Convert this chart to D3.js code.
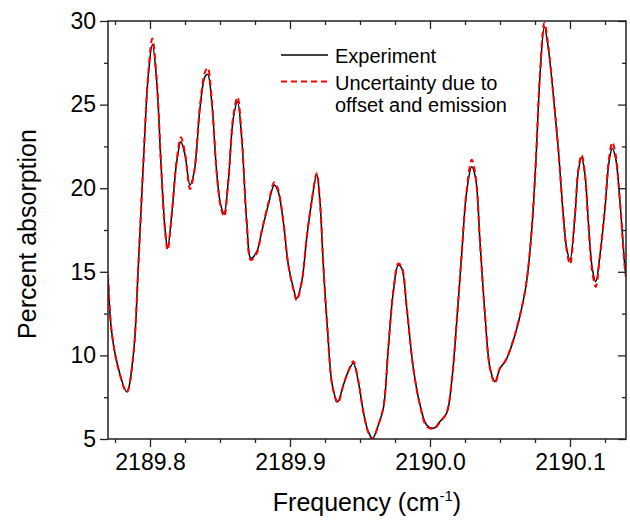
<!DOCTYPE html>
<html>
<head>
<meta charset="utf-8">
<script src="https://cdn.jsdelivr.net/npm/d3@7"></script>
<style>
  html, body { margin: 0; padding: 0; background: #fff; }
  svg { display: block; font-family: "Liberation Sans", Arial, sans-serif; }
</style>
</head>
<body>
<div id="chart"></div>
<script>
// ---- Data ----
const freq = [
  2189.7700, 2189.7726, 2189.7774, 2189.7834, 2189.7881, 2189.7917, 2189.7952, 2189.7988,
  2189.8017, 2189.8048, 2189.8079, 2189.8107, 2189.8126, 2189.8155, 2189.8191, 2189.8221,
  2189.8250, 2189.8286, 2189.8316, 2189.8357, 2189.8393, 2189.8412, 2189.8441, 2189.8476,
  2189.8505, 2189.8529, 2189.8559, 2189.8595, 2189.8625, 2189.8655, 2189.8691, 2189.8721,
  2189.8762, 2189.8798, 2189.8845, 2189.8888, 2189.8916, 2189.8952, 2189.8988, 2189.9024,
  2189.9048, 2189.9084, 2189.9119, 2189.9155, 2189.9191, 2189.9214, 2189.9238, 2189.9269,
  2189.9302, 2189.9341, 2189.9381, 2189.9416, 2189.9452, 2189.9488, 2189.9524, 2189.9559,
  2189.9590, 2189.9631, 2189.9667, 2189.9702, 2189.9738, 2189.9774, 2189.9798, 2189.9834,
  2189.9881, 2189.9929, 2189.9976, 2190.0024, 2190.0071, 2190.0119, 2190.0155, 2190.0191,
  2190.0226, 2190.0262, 2190.0298, 2190.0326, 2190.0357, 2190.0393, 2190.0429, 2190.0464,
  2190.0500, 2190.0536, 2190.0559, 2190.0607, 2190.0655, 2190.0690, 2190.0726, 2190.0755,
  2190.0786, 2190.0817, 2190.0845, 2190.0881, 2190.0916, 2190.0952, 2190.0976, 2190.1000,
  2190.1036, 2190.1059, 2190.1083, 2190.1107, 2190.1131, 2190.1159, 2190.1184, 2190.1214,
  2190.1250, 2190.1279, 2190.1302, 2190.1326, 2190.1357, 2190.1393, 2190.1400
];
const experiment = [
  14.8, 11.42, 9.23, 7.83, 10.02, 15.41, 21.39, 26.77,
  28.6, 26.37, 21.39, 17.6, 16.44, 18.4, 21.59, 22.78,
  21.99, 20.19, 20.99, 24.78, 26.67, 26.81, 25.17, 20.99,
  19.0, 18.5, 20.39, 24.18, 25.17, 23.0, 18.0, 15.81,
  16.2, 17.4, 19.0, 20.19, 19.79, 18.0, 15.41, 14.01,
  13.41, 14.41, 17.0, 19.19, 20.83, 19.19, 15.41, 11.42,
  8.23, 7.23, 8.23, 9.03, 9.53, 8.43, 6.63, 5.44,
  5.04, 5.84, 6.84, 10.42, 13.81, 15.41, 15.21, 12.82,
  9.23, 7.03, 5.84, 5.64, 6.04, 6.54, 8.43, 12.02,
  16.0, 19.79, 21.29, 20.59, 16.8, 12.42, 9.23, 8.43,
  9.23, 9.62, 10.02, 11.22, 12.82, 14.41, 17.4, 21.39,
  26.77, 29.66, 28.37, 25.57, 22.39, 18.4, 16.41, 15.71,
  18.4, 20.99, 21.82, 20.79, 18.0, 15.21, 14.41, 16.0,
  18.8, 21.59, 22.39, 21.79, 19.19, 15.21, 14.8
];
const uncertainty = [
  14.8, 11.45, 9.2, 7.8, 10.05, 15.45, 21.45, 26.9,
  28.95, 26.5, 21.4, 17.5, 16.3, 18.4, 21.7, 23.05,
  22.1, 19.95, 21.0, 24.9, 26.95, 27.2, 25.3, 20.95,
  18.9, 18.3, 20.4, 24.3, 25.45, 23.1, 17.9, 15.7,
  16.1, 17.45, 19.1, 20.35, 19.9, 18.05, 15.4, 13.95,
  13.3, 14.4, 17.05, 19.25, 20.9, 19.2, 15.4, 11.4,
  8.2, 7.15, 8.2, 9.05, 9.65, 8.45, 6.6, 5.4,
  4.98, 5.85, 6.9, 10.45, 13.85, 15.5, 15.3, 12.85,
  9.2, 7.0, 5.75, 5.6, 6.0, 6.6, 8.45, 12.05,
  16.05, 19.9, 21.7, 20.7, 16.8, 12.4, 9.2, 8.35,
  9.25, 9.65, 10.05, 11.25, 12.85, 14.45, 17.5, 21.5,
  26.9, 29.9, 28.5, 25.6, 22.4, 18.35, 16.3, 15.45,
  18.45, 21.1, 22.0, 20.85, 17.9, 15.0, 14.1, 15.95,
  18.9, 21.8, 22.75, 22.0, 19.2, 15.1, 14.7
];
const xMajorTicks = [2189.8, 2189.9, 2190.0, 2190.1];
const xMinorTicks = [2189.775, 2189.825, 2189.85, 2189.875, 2189.925, 2189.95, 2189.975,
                     2190.025, 2190.05, 2190.075, 2190.125];
const yMajorTicks = [5, 10, 15, 20, 25, 30];
const yMinorTicks = [7.5, 12.5, 17.5, 22.5, 27.5];
const seriesNames = ["Experiment", "Uncertainty due to", "offset and emission"];

// ---- Layout ----
const W = 630, H = 523;
const m = { left: 108, top: 21, right: 4, bottom: 84 };
const iw = W - m.left - m.right, ih = H - m.top - m.bottom;

const svg = d3.select("#chart").append("svg").attr("width", W).attr("height", H);
const g = svg.append("g").attr("transform", `translate(${m.left},${m.top})`);

const x = d3.scaleLinear().domain([2189.77, 2190.14]).range([0, iw]);
const y = d3.scaleLinear().domain([5, 30]).range([ih, 0]);

svg.append("defs").append("clipPath").attr("id", "clip")
  .append("rect").attr("x", 0).attr("y", 0).attr("width", iw).attr("height", ih);

const lineGen = d3.line()
  .x(d => x(d[0])).y(d => y(d[1]))
  .curve(d3.curveCatmullRom.alpha(0.5));

const expData = freq.map((f, i) => [f, experiment[i]]);
const uncData = freq.map((f, i) => [f, uncertainty[i]]);

const plot = g.append("g").attr("clip-path", "url(#clip)");
plot.append("path").datum(expData).attr("d", lineGen)
  .attr("fill", "none").attr("stroke", "#000").attr("stroke-width", 1.5);
plot.append("path").datum(uncData).attr("d", lineGen)
  .attr("fill", "none").attr("stroke", "#ff0000").attr("stroke-width", 2)
  .attr("stroke-dasharray", "6,4");

// ---- Axes ----
const axColor = "#222";
function styleAxis(sel, showText) {
  sel.select(".domain").remove();
  sel.selectAll("line").attr("stroke", axColor).attr("stroke-width", 1.3);
  sel.selectAll("text").attr("fill", "#000")
    .style("font-size", "23px").style("font-family", '"Liberation Sans", Arial, sans-serif');
  if (!showText) sel.selectAll("text").remove();
}
// bottom
g.append("g").attr("transform", `translate(0,${ih})`)
  .call(d3.axisBottom(x).tickValues(xMajorTicks).tickSize(8).tickPadding(7).tickFormat(d3.format(".1f")))
  .call(s => styleAxis(s, true));
g.append("g").attr("transform", `translate(0,${ih})`)
  .call(d3.axisBottom(x).tickValues(xMinorTicks).tickSize(4).tickFormat(""))
  .call(s => styleAxis(s, false));
// top (inward)
g.append("g")
  .call(d3.axisTop(x).tickValues(xMajorTicks).tickSize(-8).tickFormat(""))
  .call(s => styleAxis(s, false));
g.append("g")
  .call(d3.axisTop(x).tickValues(xMinorTicks).tickSize(-4).tickFormat(""))
  .call(s => styleAxis(s, false));
// left
g.append("g")
  .call(d3.axisLeft(y).tickValues(yMajorTicks).tickSize(8).tickPadding(4).tickFormat(d3.format("d")))
  .call(s => styleAxis(s, true));
g.append("g")
  .call(d3.axisLeft(y).tickValues(yMinorTicks).tickSize(4).tickFormat(""))
  .call(s => styleAxis(s, false));
// right (inward)
g.append("g").attr("transform", `translate(${iw},0)`)
  .call(d3.axisRight(y).tickValues(yMajorTicks).tickSize(-8).tickFormat(""))
  .call(s => styleAxis(s, false));
g.append("g").attr("transform", `translate(${iw},0)`)
  .call(d3.axisRight(y).tickValues(yMinorTicks).tickSize(-4).tickFormat(""))
  .call(s => styleAxis(s, false));

// frame
g.append("rect").attr("x", 0).attr("y", 0).attr("width", iw).attr("height", ih)
  .attr("fill", "none").attr("stroke", axColor).attr("stroke-width", 1.5);

// ---- Axis titles ----
const xt = svg.append("text")
  .attr("x", m.left + iw / 2).attr("y", 511)
  .attr("text-anchor", "middle").style("font-size", "25px").attr("fill", "#000");
xt.append("tspan").text("Frequency (cm");
xt.append("tspan").attr("dy", -10).style("font-size", "15px").text("-1");
xt.append("tspan").attr("dy", 10).text(")");

svg.append("text")
  .attr("transform", `translate(36,${m.top + ih / 2 + 4}) rotate(-90)`)
  .attr("text-anchor", "middle").style("font-size", "25px").attr("fill", "#000")
  .text("Percent absorption");

// ---- Legend ----
const lg = svg.append("g");
lg.append("line").attr("x1", 281).attr("x2", 328).attr("y1", 55).attr("y2", 55)
  .attr("stroke", "#000").attr("stroke-width", 1.5);
lg.append("line").attr("x1", 281).attr("x2", 328).attr("y1", 81.5).attr("y2", 81.5)
  .attr("stroke", "#ff0000").attr("stroke-width", 2).attr("stroke-dasharray", "6,4");
lg.append("text").attr("x", 335).attr("y", 63).style("font-size", "20px").text(seriesNames[0]);
lg.append("text").attr("x", 335).attr("y", 90).style("font-size", "20px").text(seriesNames[1]);
lg.append("text").attr("x", 335).attr("y", 112).style("font-size", "20px").text(seriesNames[2]);
</script>
</body>
</html>
